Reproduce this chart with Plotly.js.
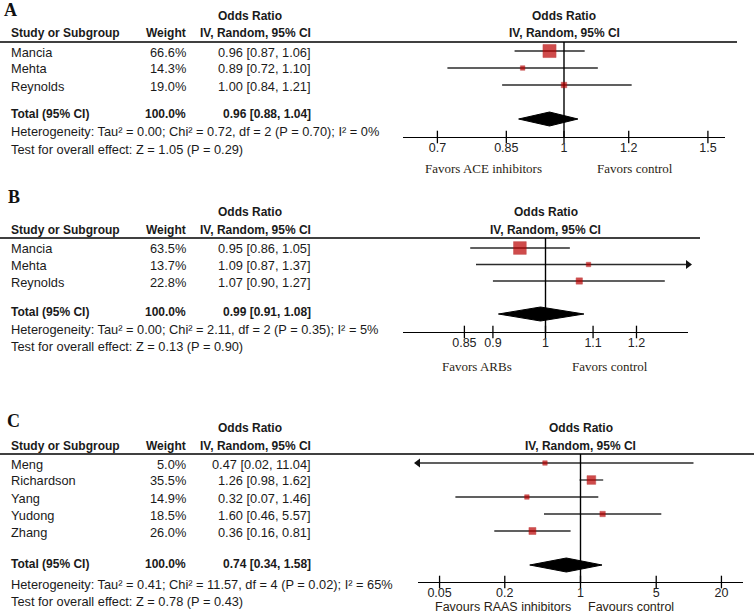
<!DOCTYPE html>
<html><head><meta charset="utf-8">
<script src="https://cdn.plot.ly/plotly-3.0.1.min.js"></script>
<style>html,body{margin:0;padding:0;background:#fff}#chart{width:754px;height:613px}</style>
</head><body><div id="chart"></div>
<script>
// ---------- Panel A data ----------
const studiesA = ['Mancia', 'Mehta', 'Reynolds'];
const weightsA = [66.6, 14.3, 19.0];
const orA = [0.96, 0.89, 1.00];
const lowA = [0.87, 0.72, 0.84];
const highA = [1.06, 1.10, 1.21];
const totalA = [0.96, 0.88, 1.04];
const totalWeightA = 100.0;
const hetA = 'Heterogeneity: Tau² = 0.00; Chi² = 0.72, df = 2 (P = 0.70); I² = 0%';
const testA = 'Test for overall effect: Z = 1.05 (P = 0.29)';
const ticksA = [0.7, 0.85, 1, 1.2, 1.5];
const tickLabelsA = ['0.7', '0.85', '1', '1.2', '1.5'];
const favorsA = ['Favors ACE inhibitors', 'Favors control'];

// ---------- Panel B data ----------
const studiesB = ['Mancia', 'Mehta', 'Reynolds'];
const weightsB = [63.5, 13.7, 22.8];
const orB = [0.95, 1.09, 1.07];
const lowB = [0.86, 0.87, 0.90];
const highB = [1.05, 1.37, 1.27];
const totalB = [0.99, 0.91, 1.08];
const totalWeightB = 100.0;
const hetB = 'Heterogeneity: Tau² = 0.00; Chi² = 2.11, df = 2 (P = 0.35); I² = 5%';
const testB = 'Test for overall effect: Z = 0.13 (P = 0.90)';
const ticksB = [0.85, 0.9, 1, 1.1, 1.2];
const tickLabelsB = ['0.85', '0.9', '1', '1.1', '1.2'];
const favorsB = ['Favors ARBs', 'Favors control'];

// ---------- Panel C data ----------
const studiesC = ['Meng', 'Richardson', 'Yang', 'Yudong', 'Zhang'];
const weightsC = [5.0, 35.5, 14.9, 18.5, 26.0];
const orC = [0.47, 1.26, 0.32, 1.60, 0.36];
const lowC = [0.02, 0.98, 0.07, 0.46, 0.16];
const highC = [11.04, 1.62, 1.46, 5.57, 0.81];
const totalC = [0.74, 0.34, 1.58];
const totalWeightC = 100.0;
const hetC = 'Heterogeneity: Tau² = 0.41; Chi² = 11.57, df = 4 (P = 0.02); I² = 65%';
const testC = 'Test for overall effect: Z = 0.78 (P = 0.43)';
const ticksC = [0.05, 0.2, 1, 5, 20];
const tickLabelsC = ['0.05', '0.2', '1', '5', '20'];
const favorsC = ['Favours RAAS inhibitors', 'Favours control'];

const letters = ['A', 'B', 'C'];

// ---------- layout (pixel geometry) ----------
const W = 754, H = 613;
const SANS = 'Liberation Sans, Arial, sans-serif';
const SERIF = 'Liberation Serif, Times New Roman, serif';
const REG = 12.8;   // regular table text size
const BOLD = 12;    // bold table text size

const panels = [
  {studies: studiesA, w: weightsA, or: orA, lo: lowA, hi: highA, tot: totalA, totW: totalWeightA, het: hetA, test: testA,
   ticks: ticksA, tickLabels: tickLabelsA, favors: favorsA,
   letterX: 3, letterY: 10, h1: 16, h2: 33, line: 42, lineRight: 737, row1: 51, step: 17, axis: 137, totTextY: 114,
   hetY: 131, testY: 149, xl: 403, xr: 725, lr: 0.197, favY: 168, favX: [483, 635], favFont: SERIF, favSize: 13},
  {studies: studiesB, w: weightsB, or: orB, lo: lowB, hi: highB, tot: totalB, totW: totalWeightB, het: hetB, test: testB,
   ticks: ticksB, tickLabels: tickLabelsB, favors: favorsB,
   letterX: 7, letterY: 197, h1: 212, h2: 230, line: 238, lineRight: 700, row1: 248, step: 16.5, axis: 332, totTextY: 312,
   hetY: 329, testY: 346, xl: 403, xr: 688, lr: 0.124, favY: 366, favX: [477, 610], favFont: SERIF, favSize: 13},
  {studies: studiesC, w: weightsC, or: orC, lo: lowC, hi: highC, tot: totalC, totW: totalWeightC, het: hetC, test: testC,
   ticks: ticksC, tickLabels: tickLabelsC, favors: favorsC,
   letterX: 6, letterY: 421, h1: 428, h2: 446, line: 454, lineRight: 754, row1: 463, step: 17, axis: 582, totTextY: 564,
   hetY: 584, testY: 601, xl: 418, xr: 743, lr: 1.5, favY: 607, favX: [503, 631], favFont: SANS, favSize: 12.5}
];

const px = x => x / W;
const py = y => 1 - y / H;
const fmt = v => v.toFixed(2);

const traces = [];
const annotations = [];
const shapes = [];
const layout = {
  width: W, height: H, margin: {l: 0, r: 0, t: 0, b: 0},
  paper_bgcolor: '#fff', plot_bgcolor: 'rgba(0,0,0,0)', showlegend: false,
  font: {family: SANS, size: 12, color: '#1a1a1a'}
};

function ann(text, x, y, anchor, opt) {
  opt = opt || {};
  annotations.push({
    text: text, x: px(x), y: py(y), xref: 'paper', yref: 'paper', showarrow: false,
    xanchor: anchor, yanchor: 'middle', borderpad: 0,
    font: {family: opt.family || SANS, size: opt.size || REG, color: opt.color || '#1a1a1a'}
  });
}

panels.forEach((p, i) => {
  const sfx = i === 0 ? '' : String(i + 1);
  const xa = 'x' + sfx, ya = 'y' + sfx;
  const n = p.studies.length;
  const rowPx = r => p.row1 + (r - 1) * p.step;
  const topR = 1 + (p.line - p.row1) / p.step;
  const botR = 1 + (p.axis - p.row1) / p.step;
  const totR = n + 2;
  const xmin = Math.pow(10, -p.lr), xmax = Math.pow(10, p.lr);
  const center1 = p.xl + (0 + p.lr) / (2 * p.lr) * (p.xr - p.xl);
  const B = {size: BOLD};

  // ---- table text ----
  ann('<b>' + letters[i] + '</b>', p.letterX, p.letterY, 'left', {family: SERIF, size: 18, color: '#111'});
  ann('<b>Odds Ratio</b>', 250, p.h1, 'center', B);
  ann('<b>Study or Subgroup</b>', 10, p.h2, 'left', B);
  ann('<b>Weight</b>', 187, p.h2, 'right', B);
  ann('<b>IV, Random, 95% CI</b>', 312, p.h2, 'right', B);
  ann('<b>Odds Ratio</b>', center1, p.h1, 'center', B);
  ann('<b>IV, Random, 95% CI</b>', center1, p.h2, 'center', B);
  p.studies.forEach((s, k) => {
    const y = rowPx(k + 1) + 1;
    ann(s, 10, y, 'left');
    ann(p.w[k].toFixed(1) + '%', 187, y, 'right');
    ann(fmt(p.or[k]) + ' [' + fmt(p.lo[k]) + ', ' + fmt(p.hi[k]) + ']', 312, y, 'right');
  });
  const ty = p.totTextY;
  ann('<b>Total (95% CI)</b>', 10, ty, 'left', B);
  ann('<b>' + p.totW.toFixed(1) + '%</b>', 187, ty, 'right', B);
  ann('<b>' + fmt(p.tot[0]) + ' [' + fmt(p.tot[1]) + ', ' + fmt(p.tot[2]) + ']</b>', 312, ty, 'right', B);
  ann(p.het, 10, p.hetY, 'left');
  ann(p.test, 10, p.testY, 'left');
  ann(p.favors[0], p.favX[0], p.favY, 'center', {family: p.favFont, size: p.favSize, color: '#2a1e14'});
  ann(p.favors[1], p.favX[1], p.favY, 'center', {family: p.favFont, size: p.favSize, color: '#2a1e14'});

  // ---- header rule ----
  shapes.push({type: 'line', xref: 'paper', yref: 'paper', x0: 0, x1: px(p.lineRight),
    y0: py(p.line), y1: py(p.line), line: {color: '#000', width: 1.5}});

  // ---- CI lines ----
  const cx = [], cy = [];
  const ax = [], ay = [], asym = [];
  p.studies.forEach((s, k) => {
    const r = k + 1;
    const a = Math.max(p.lo[k], xmin), b = Math.min(p.hi[k], xmax);
    cx.push(a, b, null); cy.push(r, r, null);
    if (p.lo[k] < xmin) { ax.push(xmin); ay.push(r); asym.push('triangle-left'); }
    if (p.hi[k] > xmax) { ax.push(xmax); ay.push(r); asym.push('triangle-right'); }
  });
  traces.push({type: 'scatter', mode: 'lines', x: cx, y: cy, xaxis: xa, yaxis: ya,
    line: {color: '#2b2b2b', width: 1.3}, hoverinfo: 'skip', cliponaxis: false});
  if (ax.length) {
    traces.push({type: 'scatter', mode: 'markers', x: ax, y: ay, xaxis: xa, yaxis: ya,
      marker: {symbol: asym, size: 8, color: '#111'}, hoverinfo: 'skip', cliponaxis: false});
  }
  // ---- vertical line of no effect ----
  traces.push({type: 'scatter', mode: 'lines', x: [1, 1], y: [topR, botR], xaxis: xa, yaxis: ya,
    line: {color: '#000', width: 1.4}, hoverinfo: 'skip', cliponaxis: false});
  // ---- study squares ----
  traces.push({type: 'scatter', mode: 'markers', x: p.or, y: p.studies.map((s, k) => k + 1),
    xaxis: xa, yaxis: ya, cliponaxis: false,
    marker: {symbol: 'square', color: '#bb0000', size: p.w.map(v => Math.max(4.5, 2 * Math.sqrt(v) - 3.2)),
      line: {width: 0.5, color: '#aa0000'}}, hoverinfo: 'skip'});
  // ---- pooled diamond ----
  const dh = 7 / p.step;
  traces.push({type: 'scatter', mode: 'lines', fill: 'toself', fillcolor: '#000',
    x: [p.tot[1], p.tot[0], p.tot[2], p.tot[0], p.tot[1]],
    y: [totR, totR - dh, totR, totR + dh, totR], xaxis: xa, yaxis: ya,
    line: {color: '#000', width: 1}, hoverinfo: 'skip', cliponaxis: false});
  // ---- crossing tick marks ----
  traces.push({type: 'scatter', mode: 'markers', x: p.ticks, y: p.ticks.map(() => botR),
    xaxis: xa, yaxis: ya, cliponaxis: false,
    marker: {symbol: 'line-ns', size: 9, line: {color: '#000', width: 1.3}}, hoverinfo: 'skip'});

  layout['xaxis' + sfx] = {
    type: 'log', domain: [px(p.xl), px(p.xr)], range: [-p.lr, p.lr], anchor: ya,
    tickmode: 'array', tickvals: p.ticks, ticktext: p.tickLabels,
    ticks: '', ticklabelstandoff: -1,
    showline: true, linecolor: '#000', linewidth: 1.3, showgrid: false, zeroline: false,
    tickfont: {family: SANS, size: 12.5, color: '#222'}, fixedrange: true
  };
  layout['yaxis' + sfx] = {
    domain: [py(p.axis), py(p.line)], range: [botR, topR], anchor: xa,
    visible: false, showgrid: false, zeroline: false, fixedrange: true
  };
});

layout.annotations = annotations;
layout.shapes = shapes;
Plotly.newPlot('chart', traces, layout, {displayModeBar: false, staticPlot: true});
</script>
</body></html>
